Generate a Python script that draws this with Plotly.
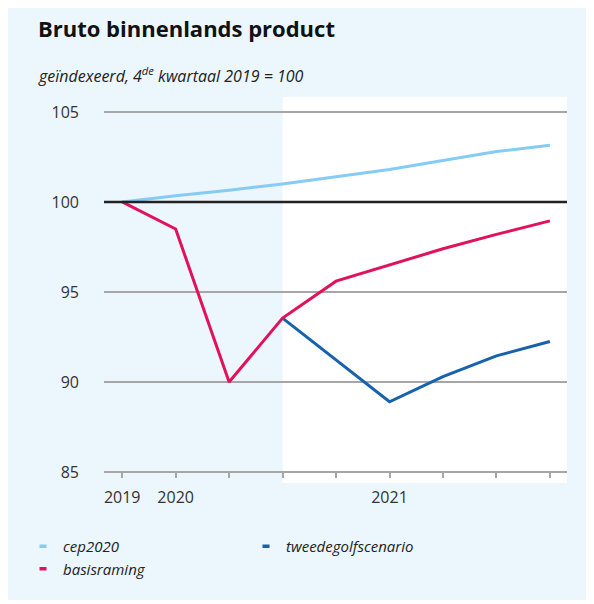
import plotly.graph_objects as go

# ---- data ----
quarters = ["2019 K4", "2020 K1", "2020 K2", "2020 K3", "2020 K4",
            "2021 K1", "2021 K2", "2021 K3", "2021 K4"]
tick_labels = ["2019", "2020", "", "", "", "2021", "", "", ""]
cep2020 = [100.0, 100.35, 100.65, 101.0, 101.4, 101.8, 102.3, 102.8, 103.15]
basisraming = [100.0, 98.5, 90.0, 93.55, 95.6, 96.5, 97.4, 98.2, 98.95]
tweedegolfscenario = [None, None, None, 93.55, 91.2, 88.9, 90.3, 91.45, 92.25]
base_index = 100
forecast_start = "2020 K3"
y_ticks = [85, 90, 95, 100, 105]

colors = {"cep2020": "#86cbf4", "basisraming": "#e2115c", "tweedegolfscenario": "#1762ad"}

BG = "#ebf6fd"
FONT = "Open Sans"
x_idx = list(range(len(quarters)))
label_pos = [i for i, t in enumerate(tick_labels) if t]
label_txt = [tick_labels[i] for i in label_pos]
x_range = [-0.34, 8.32]
y_range = [84.39, 105.83]

# figure geometry (page has an 8px body margin)
W, H = 582, 592
L, R, T, B = 96, 23, 89, 117
PW, PH = W - L - R, H - T - B


def px_x(ref):
    return (ref - 8 - L) / PW


def px_y(ref):
    return (H - B - (ref - 8)) / PH


fig = go.Figure()
data = {"cep2020": cep2020, "tweedegolfscenario": tweedegolfscenario, "basisraming": basisraming}
for name in ["cep2020", "tweedegolfscenario", "basisraming"]:
    fig.add_trace(go.Scatter(x=x_idx, y=data[name], mode="lines", name=name,
                             line=dict(color=colors[name], width=3),
                             showlegend=False, hoverinfo="x+y+name"))

# legend entries (short line symbols)
for name, leg, grp in [("cep2020", "legend", "a"), ("basisraming", "legend", "b"),
                       ("tweedegolfscenario", "legend2", "c")]:
    fig.add_trace(go.Scatter(x=[None], y=[None], mode="markers", name=name,
                             legend=leg, legendgroup=grp,
                             marker=dict(symbol="line-ew-open", size=5, color=colors[name],
                                         line=dict(color=colors[name], width=3.5))))

# white forecast band
fig.add_shape(type="rect", xref="x", yref="paper",
              x0=quarters.index(forecast_start), x1=x_range[1], y0=0, y1=1,
              fillcolor="white", line=dict(width=0), layer="below")
# base line at 100
fig.add_shape(type="line", xref="paper", yref="y", x0=0, x1=1,
              y0=base_index, y1=base_index, line=dict(color="#222222", width=2.5))

fig.update_layout(
    width=W, height=H,
    margin=dict(l=L, r=R, t=T, b=B),
    paper_bgcolor=BG, plot_bgcolor=BG,
    font=dict(family=FONT, color="#222222"),
    xaxis=dict(range=x_range, tickvals=label_pos, ticktext=label_txt,
               showgrid=False, zeroline=False, showline=True,
               linecolor="#a6a6a6", linewidth=1.5,
               ticks="outside", ticklen=5, tickwidth=1.5, tickcolor="#a6a6a6",
               minor=dict(tickvals=x_idx, ticks="outside", ticklen=5, tickwidth=1.5,
                          tickcolor="#a6a6a6", showgrid=False),
               anchor="free", position=(85 - y_range[0]) / (y_range[1] - y_range[0]),
               tickfont=dict(size=16, color="#333333"), ticklabelstandoff=6),
    yaxis=dict(range=y_range, tickvals=y_ticks, showgrid=True,
               gridcolor="#a6a6a6", gridwidth=1.5, zeroline=False,
               showline=False, ticks="", tickfont=dict(size=16, color="#333333"),
               ticklabelstandoff=24),
    legend=dict(x=px_x(23), y=px_y(530), xanchor="left", yanchor="top",
                orientation="v", bgcolor="rgba(0,0,0,0)", tracegroupgap=0,
                font=dict(size=15, style="italic", color="#222222")),
    legend2=dict(x=px_x(246), y=px_y(530), xanchor="left", yanchor="top",
                 orientation="v", bgcolor="rgba(0,0,0,0)",
                 font=dict(size=15, style="italic", color="#222222")),
    showlegend=True,
)

fig.add_annotation(text="<b>Bruto binnenlands product</b>", xref="paper", yref="paper",
                   x=px_x(36), y=px_y(28), xanchor="left", yanchor="middle",
                   showarrow=False, font=dict(size=22, color="#111111"))
fig.add_annotation(text="geïndexeerd, 4<sup>de</sup> kwartaal 2019 = 100", xref="paper", yref="paper",
                   x=px_x(36), y=px_y(75), xanchor="left", yanchor="middle",
                   showarrow=False, font=dict(size=16, style="italic", color="#222222"))

fig.write_html("out.html")
